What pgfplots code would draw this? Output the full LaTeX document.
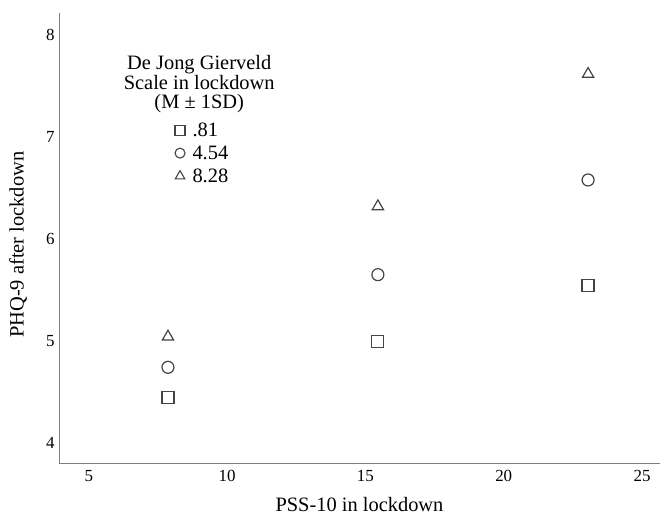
\documentclass[border=0pt]{standalone}
\usepackage{fontspec}
\setmainfont{Liberation Serif}
\usepackage{pgfplots}
\pgfplotsset{compat=1.18}
\definecolor{ax}{HTML}{808080}
\definecolor{mk}{HTML}{444444}
\begin{document}
\begin{tikzpicture}
\begin{axis}[
  at={(0,0)}, anchor=south west,
  scale only axis, width=601bp, height=450bp,
  xmin=3.92, xmax=25.65, ymin=3.8, ymax=8.22,
  axis x line=bottom, axis y line=left,
  axis line style={-, ax, line width=1bp},
  major tick length=0pt,
  xtick={5,10,15,20,25}, ytick={4,5,6,7,8},
  /pgf/number format/assume math mode=true,
  tick label style={font=\fontsize{17}{19}\selectfont, black},
  xticklabel style={yshift=-4bp},
  yticklabel style={xshift=-1bp},
  label style={font=\fontsize{20.5}{23}\selectfont},
  xlabel={PSS-10 in lockdown},
  ylabel={PHQ-9 after lockdown},
  xlabel style={at={(rel axis cs:0.5,-0.0933)}, anchor=center},
  ylabel style={at={(rel axis cs:-0.068,0.485)}, anchor=center},
  legend style={at={(axis cs:8.0,7.18)}, anchor=north west, draw=none, fill=none,
    font=\fontsize{20.5}{22}\selectfont, row sep=5bp, column sep=6bp,
    nodes={inner sep=1.5bp}},
  legend cell align=left,
]
\addplot[only marks, mark=square, mark size=6bp, mk, mark options={line width=1.2bp}, forget plot]
  coordinates {(7.86,4.44) (15.45,4.99) (23.05,5.54)};
\addplot[only marks, mark=o, mark size=6bp, mk, mark options={line width=1.2bp}, forget plot]
  coordinates {(7.86,4.74) (15.45,5.65) (23.05,6.58)};
\addplot[only marks, mark=triangle, mark size=6.5bp, mk, mark options={line width=1.2bp}, forget plot]
  coordinates {(7.86,5.04) (15.45,6.32) (23.05,7.62)};
\addlegendimage{only marks, mark=square, mark size=5bp, mk, mark options={line width=1.1bp}}
\addlegendentry{.81}
\addlegendimage{only marks, mark=o, mark size=5bp, mk, mark options={line width=1.1bp}}
\addlegendentry{4.54}
\addlegendimage{only marks, mark=triangle, mark size=5.5bp, mk, mark options={line width=1.1bp}}
\addlegendentry{8.28}
\node[align=center, font=\fontsize{20.5}{19.5}\selectfont] at (axis cs:8.99,7.52)
  {De Jong Gierveld\\Scale in lockdown\\(M ± 1SD)};
\end{axis}
\pgfresetboundingbox
\path (-59bp,-56bp) rectangle (601bp,463bp);
\end{tikzpicture}
\end{document}
